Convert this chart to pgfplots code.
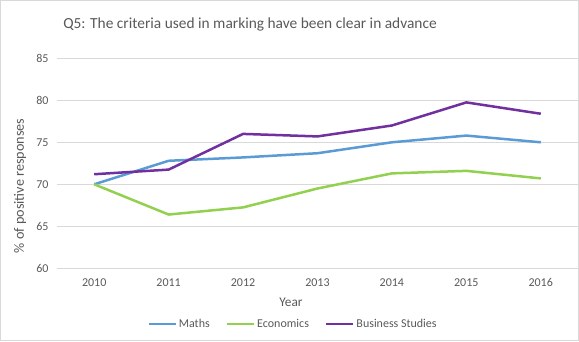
\documentclass[border=0pt]{standalone}
\usepackage{pgfplots}
\pgfplotsset{compat=1.18}
\usepackage{fontspec}
\setmainfont{Carlito}
\definecolor{mathsc}{RGB}{91,155,213}
\definecolor{econc}{RGB}{146,208,80}
\definecolor{busc}{RGB}{112,48,160}
\definecolor{txt}{RGB}{89,89,89}
\definecolor{gridc}{RGB}{217,217,217}
\begin{document}
\begin{tikzpicture}[x=1pt,y=1pt]
\useasboundingbox (0,0) rectangle (579,341);
\draw[gridc, line width=1pt] (0.5,0.5) rectangle (578.5,340.5);
\begin{axis}[
  at={(57pt,72.7pt)}, anchor=south west,
  scale only axis, width=521pt, height=210pt,
  xmin=2009.5, xmax=2016.5, ymin=60, ymax=85,
  xtick={2010,...,2016}, ytick={60,65,...,85},
  xticklabel style={/pgf/number format/1000 sep={}, yshift=-7pt},
  yticklabel style={xshift=-5pt},
  /pgf/number format/assume math mode=true,
  ticklabel style={font=\fontsize{12}{14}\selectfont, text=txt},
  axis line style={draw=none}, tick style={draw=none},
  ymajorgrids, grid style={gridc, line width=1pt},
  clip=false,
  legend columns=3,
  legend style={at={(0.453,-0.265)}, anchor=center, draw=none, fill=none,
    font=\fontsize{12}{14}\selectfont, text=txt,
    /tikz/every even column/.append style={column sep=14pt}},
  legend image code/.code={\draw[#1, line width=2.5pt] (0pt,0pt) -- (27pt,0pt);},
  every axis plot/.append style={line width=2.5pt, mark=none},
]
\addplot[mathsc] coordinates {(2010,70.0) (2011,72.8) (2012,73.2) (2013,73.7) (2014,75.0) (2015,75.8) (2016,75.0)};
\addlegendentry{Maths}
\addplot[econc] coordinates {(2010,70.0) (2011,66.4) (2012,67.25) (2013,69.5) (2014,71.3) (2015,71.6) (2016,70.7)};
\addlegendentry{Economics}
\addplot[busc] coordinates {(2010,71.2) (2011,71.75) (2012,76.0) (2013,75.7) (2014,77.0) (2015,79.75) (2016,78.4)};
\addlegendentry{Business Studies}
\end{axis}
\node[text=txt, font=\fontsize{15.4}{18}\selectfont] at (250,317) {Q5: The criteria used in marking have been clear in advance};
\node[text=txt, font=\fontsize{14.2}{17}\selectfont, rotate=90] at (20,155) {\% of positive responses};
\node[text=txt, font=\fontsize{13.3}{16}\selectfont] at (291,39) {Year};
\end{tikzpicture}
\end{document}
